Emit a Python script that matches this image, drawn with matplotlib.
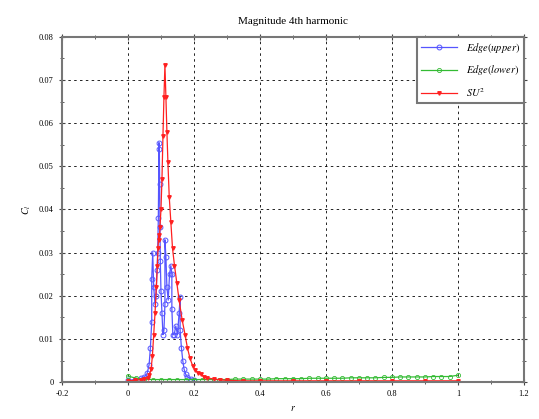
import numpy as np
import matplotlib
matplotlib.use("Agg")
import matplotlib.pyplot as plt
from matplotlib.ticker import MultipleLocator

plt.rcParams['font.family'] = ['Liberation Serif', 'DejaVu Serif']
plt.rcParams['mathtext.fontset'] = 'stix'

title = 'Magnitude 4th harmonic'
labels = ['$Edge(upper)$', '$Edge(lower)$', '$SU^2$']
x_ticks = [-0.2, 0, 0.2, 0.4, 0.6, 0.8, 1.0, 1.2]
x_ticklabels = ['-0.2', '0', '0.2', '0.4', '0.6', '0.8', '1', '1.2']
y_ticks = [0, 0.01, 0.02, 0.03, 0.04, 0.05, 0.06, 0.07, 0.08]
y_ticklabels = ['0', '0.01', '0.02', '0.03', '0.04', '0.05', '0.06', '0.07', '0.08']

# blue: Edge(upper)
upper_r = [0.0, 0.02, 0.04, 0.05, 0.058, 0.064, 0.068, 0.072, 0.072, 0.075, 0.078,
           0.082, 0.085, 0.088, 0.09, 0.092, 0.094, 0.095, 0.096, 0.097, 0.098,
           0.1, 0.103, 0.106, 0.109, 0.112, 0.112, 0.115, 0.118, 0.122, 0.126,
           0.13, 0.133, 0.133, 0.136, 0.14, 0.145, 0.15, 0.155, 0.158, 0.158,
           0.162, 0.166, 0.17, 0.175, 0.18, 0.19, 0.2]
upper_c = [0.0004, 0.0006, 0.0009, 0.0012, 0.002, 0.004, 0.008, 0.014, 0.024, 0.03,
           0.022, 0.018, 0.02, 0.026, 0.03, 0.038, 0.0555, 0.054, 0.046, 0.036, 0.028,
           0.021, 0.016, 0.011, 0.012, 0.018, 0.033, 0.029, 0.022, 0.019, 0.025,
           0.027, 0.025, 0.017, 0.011, 0.011, 0.013, 0.011, 0.016, 0.0197, 0.012,
           0.008, 0.005, 0.003, 0.0018, 0.0012, 0.0008, 0.0006]

# green: Edge(lower)
lower_r = [0.0, 0.025, 0.05, 0.075, 0.1, 0.125, 0.15, 0.175, 0.2, 0.225, 0.25,
           0.275, 0.3, 0.325, 0.35, 0.375, 0.4, 0.425, 0.45, 0.475, 0.5, 0.525,
           0.55, 0.575, 0.6, 0.625, 0.65, 0.675, 0.7, 0.725, 0.75, 0.775, 0.8,
           0.825, 0.85, 0.875, 0.9, 0.925, 0.95, 0.975, 1.0]
lower_c = [0.0014, 0.0009, 0.0007, 0.0006, 0.0006, 0.0006, 0.0006, 0.0006, 0.0006,
           0.0006, 0.0006, 0.0006, 0.0006, 0.0007, 0.0007, 0.0007, 0.0007, 0.0007,
           0.0008, 0.0008, 0.0008, 0.0008, 0.0009, 0.0009, 0.0009, 0.0009, 0.0009,
           0.001, 0.001, 0.001, 0.001, 0.0011, 0.0011, 0.0012, 0.0012, 0.0012,
           0.0012, 0.0013, 0.0013, 0.0013, 0.0016]

# red: SU2
su2_r = [0.0, 0.02, 0.04, 0.05, 0.06, 0.065, 0.07, 0.074, 0.078, 0.082, 0.086,
         0.089, 0.091, 0.093, 0.095, 0.097, 0.1, 0.103, 0.106, 0.109, 0.112, 0.115,
         0.118, 0.121, 0.125, 0.13, 0.135, 0.141, 0.148, 0.155, 0.164, 0.173, 0.18,
         0.188, 0.196, 0.204, 0.212, 0.22, 0.23, 0.24, 0.26, 0.28, 0.3, 0.35, 0.4,
         0.5, 0.6, 0.7, 0.8, 0.9, 1.0]
su2_c = [0.0003, 0.0004, 0.0006, 0.0008, 0.001, 0.0016, 0.003, 0.006, 0.011, 0.016,
         0.022, 0.027, 0.031, 0.034, 0.033, 0.036, 0.04, 0.047, 0.057, 0.066, 0.0735,
         0.066, 0.058, 0.051, 0.043, 0.037, 0.031, 0.027, 0.023, 0.019, 0.0145, 0.011,
         0.008, 0.0055, 0.0038, 0.0028, 0.0022, 0.0018, 0.0013, 0.001, 0.0007, 0.0005,
         0.0004, 0.0003, 0.0003, 0.0003, 0.0003, 0.0003, 0.0003, 0.0003, 0.0003]

fig = plt.figure(figsize=(5.39, 4.19), dpi=100)
ax = fig.add_axes([0.115, 0.088, 0.857, 0.824])

ax.plot(upper_r, upper_c, color='#5555ff', lw=0.9, marker='o', ms=3.5,
        mfc='none', mew=0.7, label=labels[0])
ax.plot(lower_r, lower_c, color='#33bb33', lw=0.9, marker='o', ms=3,
        mfc='none', mew=0.6, label=labels[1])
ax.plot(su2_r, su2_c, color='#ff2020', lw=0.9, marker='v', ms=2.5,
        label=labels[2])

ax.set_xlim(-0.2, 1.2)
ax.set_ylim(0, 0.08)
ax.set_xticks(x_ticks, x_ticklabels)
ax.set_yticks(y_ticks, y_ticklabels)
ax.xaxis.set_minor_locator(MultipleLocator(0.1))
ax.yaxis.set_minor_locator(MultipleLocator(0.005))
ax.tick_params(which='both', direction='inout', top=True, right=True,
               labelsize=6, color='#444444')
ax.tick_params(which='major', length=5)
ax.tick_params(which='minor', length=3)
for s in ax.spines.values():
    s.set_color('#777777')
    s.set_linewidth(1.5)

ax.grid(True, which='major', color='black', linestyle=(0, (3, 4)), lw=0.6)

ax.set_title(title, fontsize=8, pad=9)
ax.set_xlabel('$r$', fontsize=7)
ax.set_ylabel('$C_l$', fontsize=7)

leg = ax.legend(loc='upper right', fontsize=7.5, borderaxespad=0, fancybox=False,
                handlelength=3.5, labelspacing=0.8, framealpha=1)
leg.get_frame().set_edgecolor('#777777')
leg.get_frame().set_linewidth(1.5)

fig.savefig('out.png', dpi=100)
